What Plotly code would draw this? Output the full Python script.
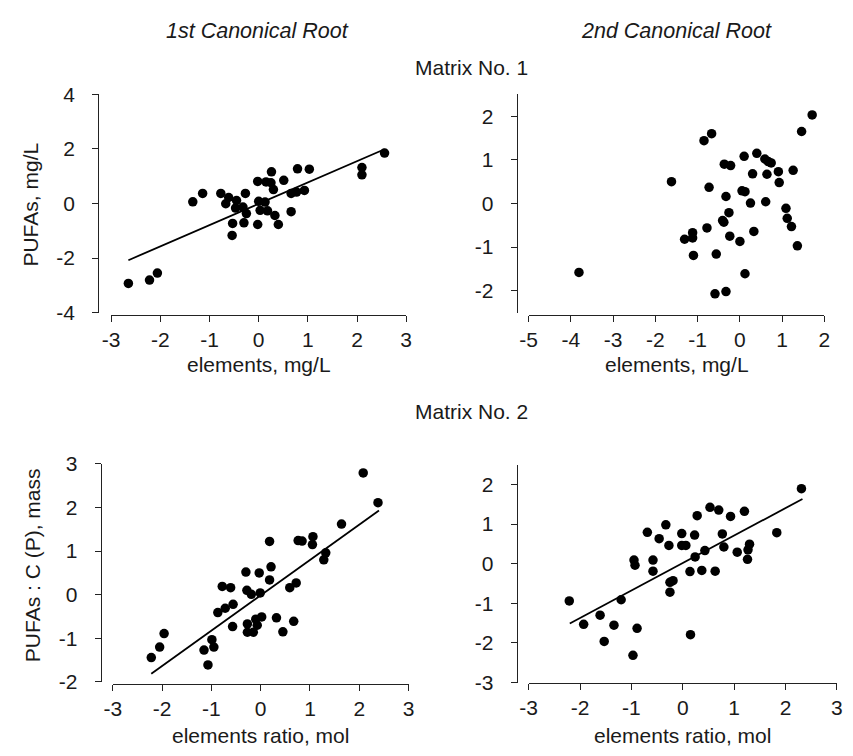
import plotly.graph_objects as go

# ---------------- data ----------------
# Matrix No. 1, 1st canonical root
p1_x = [-2.65, -2.22, -2.06, -1.34, -1.14, -0.77, -0.61, -0.67, -0.45, -0.47, -0.32, -0.27, -0.25,
        -0.53, -0.30, -0.54, -0.02, 0.00, 0.13, 0.03, 0.18, 0.33, 0.40, -0.02, 0.15, 0.25, 0.30,
        0.26, 0.51, 0.66, 0.66, 0.77, 0.93, 0.79, 1.03, 2.10, 2.10, 2.56]
p1_y = [-2.93, -2.81, -2.55, 0.06, 0.37, 0.37, 0.22, -0.01, 0.11, -0.17, -0.13, 0.37, -0.37,
        -0.73, -0.71, -1.17, -0.77, 0.08, 0.05, -0.25, -0.27, -0.44, -0.77, 0.81, 0.79, 0.76, 0.51,
        1.16, 0.85, -0.30, 0.37, 0.42, 0.48, 1.27, 1.26, 1.32, 1.05, 1.85]
fit1_x = [-2.65, 2.56]
fit1_y = [-2.08, 1.99]

# Matrix No. 1, 2nd canonical root
p2_x = [-3.81, -1.62, -0.85, -0.67, -1.31, -1.12, -1.12, -1.10, -0.78, -0.73, -0.59, -0.33, -0.56,
        -0.41, -0.38, -0.26, -0.24, -0.33, -0.37, -0.22, 0.00, 0.10, 0.05, 0.12, 0.12, 0.25, 0.30,
        0.33, 0.40, 0.59, 0.67, 0.74, 0.64, 0.61, 0.91, 0.93, 1.26, 1.09, 1.12, 1.22, 1.36, 1.46, 1.71]
p2_y = [-1.58, 0.50, 1.44, 1.60, -0.82, -0.67, -0.79, -1.19, -0.56, 0.37, -2.07, -2.02, -1.16,
        -0.39, -0.43, -0.21, -0.75, 0.16, 0.90, 0.87, -0.87, 1.08, 0.29, 0.27, -1.61, 0.01, 0.68,
        -0.64, 1.15, 1.02, 0.96, 0.93, 0.67, 0.04, 0.73, 0.48, 0.76, -0.11, -0.34, -0.53, -0.97, 1.65, 2.03]

# Matrix No. 2, 1st canonical root
p3_x = [2.08, 2.38, 1.64, 1.06, 1.05, 0.76, 0.84, 0.18, 1.32, 1.28, 0.21, -0.30, -0.03, 0.18,
        0.72, 0.59, -0.78, -0.61, -0.28, -0.19, -0.01, -0.56, -0.72, -0.87, -0.57, -0.27, -0.10,
        0.02, -0.07, -0.27, -0.15, 0.32, 0.45, 0.67, -0.99, -0.95, -1.15, -1.96, -2.05, -2.22, -1.07]
p3_y = [2.79, 2.11, 1.62, 1.33, 1.15, 1.24, 1.23, 1.22, 0.96, 0.80, 0.64, 0.52, 0.50, 0.34,
        0.27, 0.16, 0.19, 0.16, 0.10, 0.01, 0.04, -0.22, -0.31, -0.41, -0.73, -0.67, -0.56,
        -0.51, -0.70, -0.86, -0.86, -0.53, -0.85, -0.61, -1.03, -1.20, -1.27, -0.89, -1.20, -1.44, -1.61]
fit3_x = [-2.22, 2.40]
fit3_y = [-1.81, 1.93]

# Matrix No. 2, 2nd canonical root
p4_x = [2.31, 1.83, 1.20, 0.93, 0.70, 0.53, 0.28, 0.77, 0.23, -0.02, -0.33, -0.69, -0.46, -0.27,
        -0.02, 0.06, 0.80, 0.43, 0.24, 1.06, 1.30, 1.27, 1.26, -0.95, -0.93, -0.58, -0.58, 0.14,
        0.37, 0.63, -0.19, -0.25, -0.25, -1.20, -2.21, -1.61, -1.93, -1.34, -0.89, -1.53, 0.15, -0.97]
p4_y = [1.89, 0.78, 1.32, 1.19, 1.35, 1.42, 1.21, 0.75, 0.72, 0.76, 0.98, 0.79, 0.63, 0.46,
        0.46, 0.46, 0.42, 0.33, 0.17, 0.29, 0.49, 0.35, 0.11, 0.09, -0.04, 0.09, -0.19, -0.20,
        -0.17, -0.19, -0.43, -0.47, -0.72, -0.91, -0.94, -1.30, -1.53, -1.55, -1.63, -1.96, -1.79, -2.31]
fit4_x = [-2.20, 2.33]
fit4_y = [-1.51, 1.63]

ticks_x1 = [-3, -2, -1, 0, 1, 2, 3]
ticks_y1 = [-4, -2, 0, 2, 4]
ticks_x2 = [-5, -4, -3, -2, -1, 0, 1, 2]
ticks_y2 = [-2, -1, 0, 1, 2]
ticks_x3 = [-3, -2, -1, 0, 1, 2, 3]
ticks_y3 = [-2, -1, 0, 1, 2, 3]
ticks_x4 = [-3, -2, -1, 0, 1, 2, 3]
ticks_y4 = [-3, -2, -1, 0, 1, 2]

# ---------------- layout helpers ----------------
W, H = 853, 756
FONT = "Arial, Liberation Sans, sans-serif"
AX = "#222222"
TXT = "#1a1a1a"
FS = 21


def fx(x):
    return x / W


def fy(y):
    return 1 - y / H


fig = go.Figure()

panels = [
    (p1_x, p1_y, fit1_x, fit1_y, (104, 404.3), (85, 310), [-3, 3], [-4, 4], ticks_x1, ticks_y1, 90.7, 312),
    (p2_x, p2_y, None, None, (529, 830), (85, 310), [-5, 2], [-2.5, 2.5], ticks_x2, ticks_y2, 516.7, 312),
    (p3_x, p3_y, fit3_x, fit3_y, (105.7, 406.7), (466, 691), [-3, 3], [-2, 3], ticks_x3, ticks_y3, 93.3, 693),
    (p4_x, p4_y, fit4_x, fit4_y, (529, 842.7), (466.7, 691.7), [-3, 3], [-3, 2.5], ticks_x4, ticks_y4, 516.7, 692),
]

layout_axes = {}
for i, (xs, ys, fxs, fys, xd, yd, xr, yr, xt, yt, yl, xl) in enumerate(panels, start=1):
    sfx = "" if i == 1 else str(i)
    xa, ya = "x" + sfx, "y" + sfx
    fig.add_trace(go.Scatter(x=xs, y=ys, mode="markers", xaxis=xa, yaxis=ya,
                             marker=dict(color="black", size=9.5), cliponaxis=False,
                             showlegend=False, hoverinfo="x+y"))
    if fxs is not None:
        fig.add_trace(go.Scatter(x=fxs, y=fys, mode="lines", xaxis=xa, yaxis=ya,
                                 line=dict(color="black", width=1.8), cliponaxis=False,
                                 showlegend=False, hoverinfo="skip"))
    layout_axes["xaxis" + sfx] = dict(
        domain=[fx(xd[0]), fx(xd[1])], range=xr, anchor="free", position=fy(xl),
        showline=True, linecolor=AX, linewidth=1, ticks="outside", ticklen=6, tickwidth=1,
        tickcolor=AX, tickvals=xt, ticktext=[str(v) for v in xt],
        showgrid=False, zeroline=False, fixedrange=True,
        tickfont=dict(family=FONT, size=FS, color=TXT), ticklabelstandoff=0)
    layout_axes["yaxis" + sfx] = dict(
        domain=[fy(yd[1]), fy(yd[0])], range=yr, anchor="free", position=fx(yl),
        showline=True, linecolor=AX, linewidth=1, ticks="outside", ticklen=6, tickwidth=1,
        tickcolor=AX, tickvals=yt, ticktext=[str(v) for v in yt],
        showgrid=False, zeroline=False, fixedrange=True,
        tickfont=dict(family=FONT, size=FS, color=TXT), ticklabelstandoff=13)

ann = []


def text(s, x, y, size=FS, italic=False, angle=0):
    ann.append(dict(text=("<i>%s</i>" % s) if italic else s, x=fx(x), y=fy(y), xref="paper", yref="paper",
                    showarrow=False, xanchor="center", yanchor="middle", textangle=angle,
                    font=dict(family=FONT, size=size, color=TXT)))


text("1st Canonical Root", 253, 20, size=21.5, italic=True)
text("2nd Canonical Root", 679, 20, size=21.5, italic=True)
text("Matrix No. 1", 471, 57)
text("Matrix No. 2", 471, 412)
text("elements, mg/L", 254, 364)
text("elements, mg/L", 680, 364)
text("elements ratio, mol", 256, 746)
text("elements ratio, mol", 686, 746)
text("PUFAs, mg/L", 22, 199, size=21, angle=-90)
text("PUFAs : C (P), mass", 24, 571, size=21, angle=-90)

fig.update_layout(width=W, height=H, margin=dict(l=0, r=0, t=0, b=0),
                  paper_bgcolor="white", plot_bgcolor="white", annotations=ann,
                  showlegend=False, **layout_axes)

fig.write_html("out.html")
